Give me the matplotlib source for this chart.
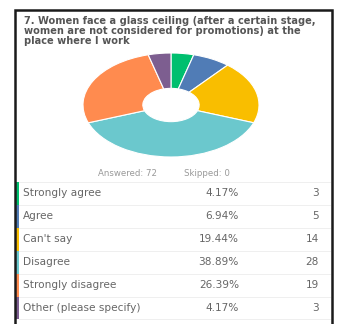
import matplotlib
matplotlib.use("Agg")
import matplotlib.pyplot as plt

title = "7. Women face a glass ceiling (after a certain stage,\nwomen are not considered for promotions) at the\nplace where I work"
labels = ["Strongly agree", "Agree", "Can't say", "Disagree",
          "Strongly disagree", "Other (please specify)"]
percents = [4.17, 6.94, 19.44, 38.89, 26.39, 4.17]
counts = [3, 5, 14, 28, 19, 3]
answered = 72
skipped = 0
colors = ["#00bf6f", "#507cb6", "#f9be00", "#6bc8cd", "#ff8b4f", "#7d5e90"]

W, H = 337, 324
fig = plt.figure(figsize=(W / 100, H / 100), dpi=100)

# background axes in pixel units (y going down)
bg = fig.add_axes([0, 0, 1, 1])
bg.set_xlim(0, W)
bg.set_ylim(H, 0)
bg.axis("off")

# frame around the card
bg.plot([15, 15, 332, 332], [H + 5, 10, 10, H + 5], color="#1a1a1a", lw=1.8,
        solid_joinstyle="miter")

bg.text(24, 15.5, title, fontsize=7.1, fontweight="bold", color="#555555",
        va="top", ha="left", linespacing=1.0)

# donut
cx, cy, rx, ry = 171, 105, 88, 52
ax = fig.add_axes([(cx - rx) / W, 1 - (cy + ry) / H, 2 * rx / W, 2 * ry / H])
ax.pie(counts, colors=colors, startangle=90, counterclock=False,
       wedgeprops=dict(width=0.68, edgecolor="white", linewidth=0.8))
ax.set_aspect("auto")
ax.set_xlim(-1, 1)
ax.set_ylim(-1, 1)
ax.axis("off")

bg.text(128, 173, "Answered: %d" % answered, fontsize=6.2, color="#999999",
        ha="center", va="center")
bg.text(207, 173, "Skipped: %d" % skipped, fontsize=6.2, color="#999999",
        ha="center", va="center")

# table rows
top = 182
row_h = 22.9
bg.plot([19, 330], [top, top], color="#ececec", lw=0.6)
for i, (lab, p, c) in enumerate(zip(labels, percents, counts)):
    y0 = top + i * row_h
    ym = y0 + row_h / 2
    bg.fill_between([15, 19], y0, y0 + row_h, color=colors[i], lw=0)
    bg.text(23, ym, lab, fontsize=7.6, color="#666666", va="center", ha="left")
    bg.text(239, ym, "%.2f%%" % p, fontsize=7.6, color="#666666", va="center", ha="right")
    bg.text(319, ym, str(c), fontsize=7.6, color="#666666", va="center", ha="right")
    bg.plot([19, 330], [y0 + row_h, y0 + row_h], color="#ececec", lw=0.6)

fig.savefig("out.png", dpi=100)
